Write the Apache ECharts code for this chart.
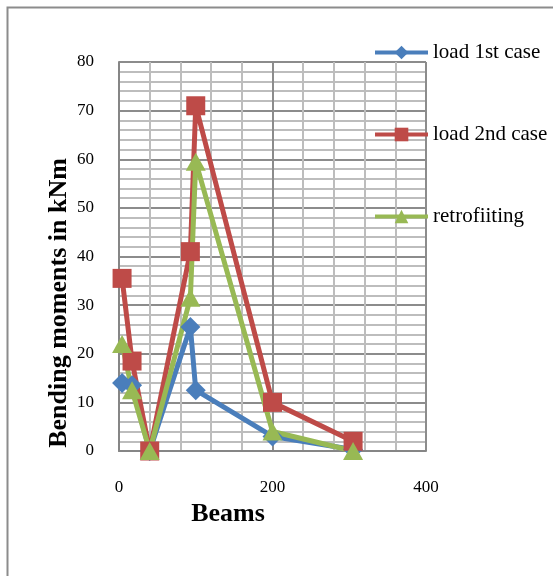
<!DOCTYPE html>
<html>
<head>
<meta charset="utf-8">
<script src="https://cdn.jsdelivr.net/npm/echarts@6/dist/echarts.min.js"></script>
<style>
  html, body { margin: 0; padding: 0; background: #fff; }
  #chart { width: 553px; height: 576px; }
</style>
</head>
<body>
<div id="chart"></div>
<script>
// Beam positions along the x axis
const beams = [4, 17, 40, 93, 100, 200, 305];

// Bending moments (kNm) at each beam position
const load1st = [14, 13.5, 0, 25.5, 12.5, 3, 0.3];
const load2nd = [35.5, 18.5, 0, 41, 71, 10, 2];
const retrofitting = [22, 12.5, 0, 31.5, 59.5, 4, 0];

const seriesNames = ['load 1st case', 'load 2nd case', 'retrofiiting'];
const xTicks = [0, 200, 400];
const yTicks = [0, 10, 20, 30, 40, 50, 60, 70, 80];

const SERIF = "'Liberation Serif', 'Times New Roman', serif";
const colors = ['#4A7EBB', '#BE4B48', '#98B954'];

function pairs(values) {
  return beams.map((b, i) => [b, values[i]]);
}

const chart = echarts.init(document.getElementById('chart'), null, { renderer: 'canvas' });

const legendTops = [37, 119, 201];

chart.setOption({
  animation: false,
  backgroundColor: '#fff',
  grid: { left: 119, right: 127, top: 62, bottom: 125, containLabel: false },
  legend: seriesNames.map((name, i) => ({
    data: [name],
    left: 368,
    top: legendTops[i],
    itemWidth: 53,
    itemHeight: 17,
    itemGap: 0,
    lineStyle: { width: 4 },
    textStyle: { fontFamily: SERIF, fontSize: 21, color: '#000' },
    selectedMode: false
  })),
  xAxis: {
    type: 'value',
    min: xTicks[0],
    max: xTicks[xTicks.length - 1],
    interval: xTicks[1] - xTicks[0],
    axisLine: { show: true, lineStyle: { color: '#868686', width: 2 } },
    axisTick: { show: false },
    axisLabel: { margin: 28, fontFamily: SERIF, fontSize: 17, color: '#000' },
    splitLine: { show: true, lineStyle: { color: '#8C8C8C', width: 2 } },
    minorTick: { show: false, splitNumber: 5 },
    minorSplitLine: { show: true, lineStyle: { color: '#BDBDBD', width: 2 } }
  },
  yAxis: {
    type: 'value',
    min: yTicks[0],
    max: yTicks[yTicks.length - 1],
    interval: yTicks[1] - yTicks[0],
    axisLine: { show: true, lineStyle: { color: '#868686', width: 2 } },
    axisTick: { show: false },
    axisLabel: { margin: 25, fontFamily: SERIF, fontSize: 17, color: '#000' },
    splitLine: { show: true, lineStyle: { color: '#8C8C8C', width: 2 } },
    minorTick: { show: false, splitNumber: 5 },
    minorSplitLine: { show: true, lineStyle: { color: '#BDBDBD', width: 2 } }
  },
  graphic: [
    {
      type: 'rect',
      shape: { x: 7.5, y: 7.5, width: 600, height: 600 },
      style: { fill: 'none', stroke: '#8C8C8C', lineWidth: 2 },
      silent: true
    },
    {
      type: 'text',
      x: 228, y: 514,
      style: {
        text: 'Beams', fontFamily: SERIF, fontSize: 26, fontWeight: 'bold',
        fill: '#000', textAlign: 'center', textVerticalAlign: 'middle'
      }
    },
    {
      type: 'text',
      x: 59, y: 303,
      rotation: Math.PI / 2,
      style: {
        text: 'Bending moments in kNm', fontFamily: SERIF, fontSize: 26, fontWeight: 'bold',
        fill: '#000', textAlign: 'center', textVerticalAlign: 'middle'
      }
    }
  ],
  series: [
    {
      name: seriesNames[0], type: 'line', data: pairs(load1st),
      symbol: 'diamond', symbolSize: 20,
      lineStyle: { color: colors[0], width: 5 },
      itemStyle: { color: colors[0] }
    },
    {
      name: seriesNames[1], type: 'line', data: pairs(load2nd),
      symbol: 'rect', symbolSize: 19,
      lineStyle: { color: colors[1], width: 5 },
      itemStyle: { color: colors[1] }
    },
    {
      name: seriesNames[2], type: 'line', data: pairs(retrofitting),
      symbol: 'triangle', symbolSize: [20, 18],
      lineStyle: { color: colors[2], width: 5 },
      itemStyle: { color: colors[2] }
    }
  ]
});
</script>
</body>
</html>
